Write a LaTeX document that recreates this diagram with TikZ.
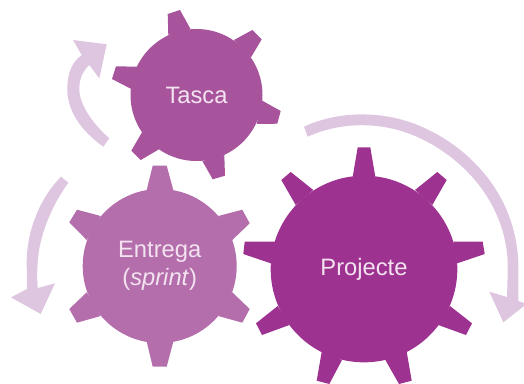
\documentclass[tikz,border=0pt]{standalone}
\usepackage{fontspec}
\setmainfont{Liberation Sans}
\definecolor{tascac}{HTML}{A8549C}
\definecolor{entregac}{HTML}{B36EAB}
\definecolor{projc}{HTML}{9E3290}
\definecolor{arrowc}{HTML}{DEC5E0}
\definecolor{labelc}{HTML}{F3E3F0}
\tikzset{
  gearbody/.style={circle,inner sep=0pt,outer sep=0pt,text=labelc,align=center,font=\fontsize{17.8}{21}\selectfont},
  turn/.style={fill=arrowc,draw=none}
}
\begin{document}
\begin{tikzpicture}[x=0.75pt,y=-0.75pt]
\useasboundingbox (0,0) rectangle (524,383);
\clip (0,0) rectangle (524,383);
% Tasca
\node[gearbody,fill=tascac,minimum size=99pt] (tasca) at (196.5,95) {Tasca};
\fill[tascac] (168.3,35)--(167.7,14)--(180,10)--(190.7,29.3)--cycle;
\fill[tascac] (234,40)--(252.3,30)--(261.7,39.3)--(251,57.3)--cycle;
\fill[tascac] (262.3,100.7)--(280.7,111)--(277.3,123.7)--(256.7,124)--cycle;
\fill[tascac] (224.3,155)--(225,175.7)--(212.7,179.3)--(202.3,161)--cycle;
\fill[tascac] (159,149.3)--(140.7,160)--(131.3,150.7)--(142,132.3)--cycle;
\fill[tascac] (137.3,66.7)--(116,66.3)--(112,79)--(130.7,88.7)--cycle;
% Entrega
\node[gearbody,fill=entregac,minimum size=115.5pt] (entrega) at (159.7,266) {Entrega\\(\textit{sprint})};
\fill[entregac] (146.7,190)--(152.7,165.7)--(166.7,165.7)--(173.3,190)--cycle;
\fill[entregac] (218.3,216)--(242.3,209.7)--(249.7,223.3)--(232.3,240)--cycle;
\fill[entregac] (232.3,292.3)--(249.7,309)--(242.3,322.7)--(218.3,316)--cycle;
\fill[entregac] (173.3,341.7)--(166.7,366.7)--(152.7,366.7)--(146.7,341.7)--cycle;
\fill[entregac] (100.7,316)--(77,322.7)--(69.3,309)--(86.7,292.3)--cycle;
\fill[entregac] (86.7,240)--(69.3,222.3)--(77,209.7)--(100.7,216)--cycle;
% Projecte
\node[gearbody,fill=projc,minimum size=140pt] (projecte) at (364,269) {Projecte};
\fill[projc] (352.7,176.7)--(357.7,147.3)--(370.3,147.3)--(375.3,176.7)--cycle;
\fill[projc] (415,190)--(437.3,172)--(446.7,180)--(432.3,205)--cycle;
\fill[projc] (453.3,241.7)--(482.7,241.7)--(484.7,254)--(457.3,263.3)--cycle;
\fill[projc] (450,306)--(472,323.3)--(466,335)--(438.3,325)--cycle;
\fill[projc] (406.7,351.7)--(411.7,380.7)--(399,384)--(385,359.3)--cycle;
\fill[projc] (342,360)--(329.3,384)--(316.7,380.7)--(321.7,351.7)--cycle;
\fill[projc] (289.3,325)--(262,335)--(256,323.3)--(277.7,306)--cycle;
\fill[projc] (270.7,263.3)--(243.3,254)--(244.7,241.7)--(275,241.7)--cycle;
\fill[projc] (295.7,205)--(281.3,180)--(290.7,172)--(313.3,190)--cycle;
% Turning arrows
\fill[turn] (103.3,146.7) .. controls (80,130) and (67,110) .. (67.3,88)
  .. controls (67.5,73) and (72,62) .. (81.7,55)
  -- (73,40) -- (106.7,44.3) -- (99.3,78.3) -- (89.3,65)
  .. controls (82,72) and (79,80) .. (79.3,90)
  .. controls (80,105) and (92,123) .. (109.3,138.3) -- cycle;
\fill[turn] (61,176.7) .. controls (38,200) and (26,235) .. (26.7,265)
  .. controls (26.8,275) and (27,280) .. (27,289)
  -- (11,297.3) -- (40.7,314) -- (55,283.3) -- (37.7,288)
  .. controls (37,280) and (37,272) .. (37.7,262)
  .. controls (39,238) and (50,208) .. (68.3,182.7) -- cycle;
\fill[turn] (304,126.7) .. controls (335,112) and (380,109) .. (420,126)
  .. controls (465,145) and (515,190) .. (518.3,262)
  .. controls (518.7,275) and (518.3,285) .. (518.3,301)
  -- (524,303) -- (524,306) -- (503.3,322.3) -- (489.3,291.7) -- (507,297)
  .. controls (507.5,285) and (507.7,272) .. (507.7,262)
  .. controls (505,200) and (460,155) .. (415,136)
  .. controls (380,121) and (340,122) .. (307.7,136.7) -- cycle;
\end{tikzpicture}
\end{document}
